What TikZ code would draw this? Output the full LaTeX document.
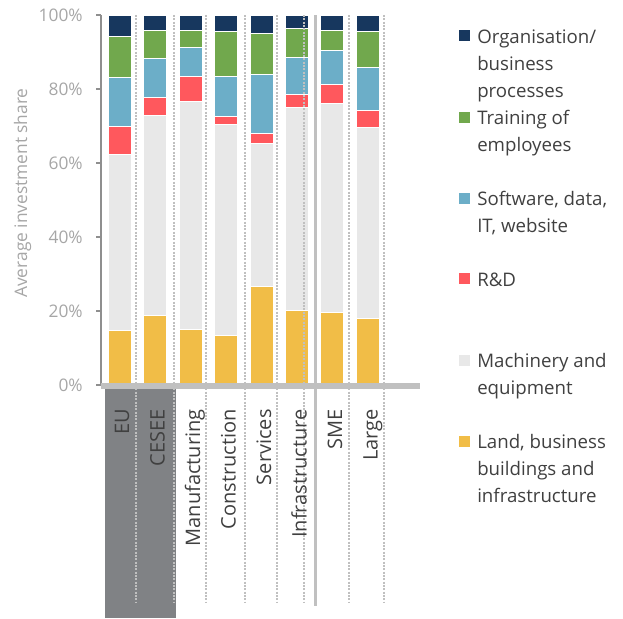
\documentclass[tikz,border=0pt]{standalone}
\usepackage{fontspec}
\setmainfont{Open Sans}
\definecolor{orgc}{HTML}{17375E}
\definecolor{trainc}{HTML}{71A84D}
\definecolor{softc}{HTML}{6CAEC8}
\definecolor{rdc}{HTML}{FF585D}
\definecolor{machc}{HTML}{E8E8E8}
\definecolor{landc}{HTML}{F1BD47}
\definecolor{boxgrey}{HTML}{808285}
\definecolor{sepgrey}{HTML}{C0C0C0}
\definecolor{axisgrey}{HTML}{8F8F8F}
\definecolor{textdark}{HTML}{404040}
\definecolor{ticktext}{HTML}{A6A6A6}

\begin{document}
\begin{tikzpicture}[x=0.75pt,y=-0.75pt,
    seg/.style={draw=white,line width=0.6pt},
    dotsep/.style={draw=sepgrey,line width=1.5pt,dash pattern=on 1.5pt off 1pt},
    ticklabel/.style={anchor=east,inner sep=0pt,text=ticktext,font=\fontsize{13}{15}\selectfont},
    catlabel/.style={rotate=90,anchor=base east,inner sep=0pt,text=textdark,font=\fontsize{15}{18}\selectfont},
    legkey/.style={minimum size=8.25pt,inner sep=0pt,outer sep=0pt},
    legtext/.style={anchor=base west,inner sep=0pt,align=left,text=textdark,font=\fontsize{14}{20.25}\selectfont}]
  \useasboundingbox (0,0) rectangle (623,618);

  % dark box behind EU and CESEE
  \fill[boxgrey] (105,389) rectangle (176,618);

  % stacked bars, 0% at y=385, 1% = 3.7px
  \begin{scope}[shift={(0,385)},y=2.775pt]
    \foreach \xc/\ya/\yb/\yc/\yd/\ye in {119.5/14.7/62.2/70.0/83.2/94.3,
        155/18.8/73.0/77.6/88.3/95.8, 190.5/14.9/76.6/83.4/91.3/95.9,
        226/13.4/70.4/72.5/83.5/95.6, 261.5/26.6/65.2/68.1/84.0/94.9,
        297/20.1/75.1/78.6/88.6/96.4, 332/19.5/76.2/81.2/90.5/95.9,
        368/17.9/69.7/74.1/85.9/95.7}{
      \filldraw[seg,fill=landc] (\xc-11.5,0) rectangle (\xc+11.5,\ya);
      \filldraw[seg,fill=machc] (\xc-11.5,\ya) rectangle (\xc+11.5,\yb);
      \filldraw[seg,fill=rdc] (\xc-11.5,\yb) rectangle (\xc+11.5,\yc);
      \filldraw[seg,fill=softc] (\xc-11.5,\yc) rectangle (\xc+11.5,\yd);
      \filldraw[seg,fill=trainc] (\xc-11.5,\yd) rectangle (\xc+11.5,\ye);
      \filldraw[seg,fill=orgc] (\xc-11.5,\ye) rectangle (\xc+11.5,100);
    }
    % y axis
    \draw[axisgrey,line width=1.2pt] (101,0) -- (101,100);
    \foreach \v in {0,20,...,100}{
      \draw[axisgrey,line width=1pt] (96,\v) -- (101,\v);
      \node[ticklabel] (t\v) at (83,\v) {\v\%};
    }
  \end{scope}

  % separators
  \foreach \xs in {136,173.5,206,244.5,277,304,349,384}
    \draw[dotsep] (\xs,15) -- (\xs,603);
  \draw[sepgrey,line width=2.25pt] (315,15) -- (315,606);

  % x axis
  \draw[sepgrey,line width=5pt] (101,386) -- (420,386);

  \node[rotate=90,anchor=base,inner sep=0pt,text=ticktext,font=\fontsize{13}{15}\selectfont] (ytitle) at (27,193) {Average investment share};

  % category labels
  \node[catlabel] (eu) at (129,409) {EU};
  \node[catlabel] (cesee) at (164.5,409) {CESEE};
  \node[catlabel] (manu) at (200,409) {Manufacturing};
  \node[catlabel] (constr) at (235.5,409) {Construction};
  \node[catlabel] (serv) at (271,409) {Services};
  \node[catlabel] (infra) at (306.5,409) {Infrastructure};
  \node[catlabel] (sme) at (342,409) {SME};
  \node[catlabel] (large) at (377.5,409) {Large};

  % legend (base = baseline of the last line)
  \node[legkey,fill=orgc] (korg) at (464.5,35.5) {};
  \node[legtext] (lorg) at (477,97) {Organisation/\\business\\processes};
  \node[legkey,fill=trainc] (ktrain) at (464.5,117) {};
  \node[legtext] (ltrain) at (477,151) {Training of\\employees};
  \node[legkey,fill=softc] (ksoft) at (464.5,198.5) {};
  \node[legtext] (lsoft) at (477,232) {Software, data,\\IT, website};
  \node[legkey,fill=rdc] (krd) at (464.5,278.5) {};
  \node[legtext] (lrd) at (477,286) {R\&D};
  \node[legkey,fill=machc] (kmach) at (464.5,360) {};
  \node[legtext] (lmach) at (477,394) {Machinery and\\equipment};
  \node[legkey,fill=landc] (kland) at (464.5,441) {};
  \node[legtext] (lland) at (477,502) {Land, business\\buildings and\\infrastructure};
\end{tikzpicture}
\end{document}
